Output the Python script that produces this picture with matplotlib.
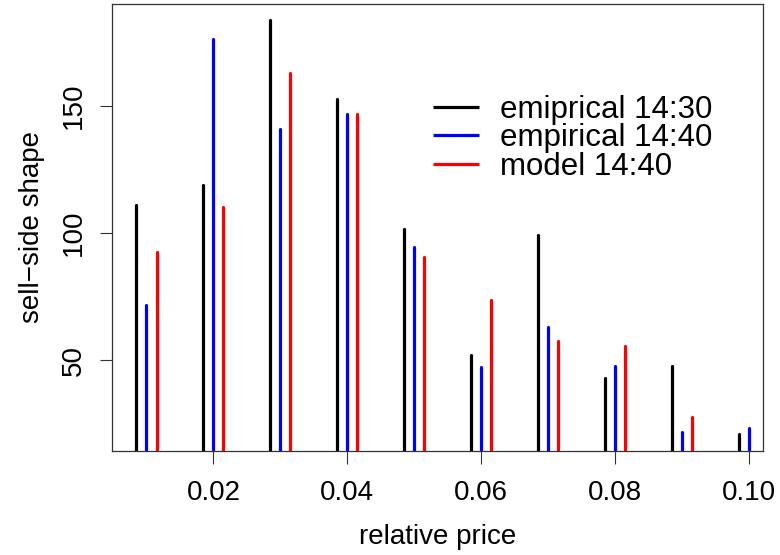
import numpy as np
import matplotlib.pyplot as plt

plt.rcParams['font.family'] = ['Liberation Sans', 'DejaVu Sans']

# ---- data ----
price = np.array([0.01, 0.02, 0.03, 0.04, 0.05, 0.06, 0.07, 0.08, 0.09, 0.10])
emp_1430 = [111.1, 119.0, 183.4, 152.7, 101.6, 52.0, 99.1, 43.2, 48.0, 21.1]
emp_1440 = [71.7, 176.1, 140.8, 146.5, 94.6, 47.4, 63.0, 48.0, 21.9, 23.6]
model_1440 = [92.4, 110.3, 162.8, 146.5, 90.7, 73.8, 57.7, 55.6, 27.8, np.nan]
shift = 0.0015

fig = plt.figure(figsize=(7.8, 5.55), dpi=100)
ax = fig.add_axes([0.144, 0.188, 0.8346, 0.805])

lw = 2.3
ax.vlines(price - shift, 0, emp_1430, color='black', lw=lw, capstyle='round', label='emiprical 14:30')
ax.vlines(price, 0, emp_1440, color='blue', lw=lw, capstyle='round', label='empirical 14:40')
ax.vlines(price + shift, 0, model_1440, color='red', lw=lw, capstyle='round', label='model 14:40')

ax.set_xlim(0.0049, 0.1021)
ax.set_ylim(14.6, 189.9)
ax.set_xticks([0.02, 0.04, 0.06, 0.08, 0.10])
ax.set_xticklabels(['0.02', '0.04', '0.06', '0.08', '0.10'])
ax.set_yticks([50, 100, 150])
ax.set_yticklabels(['50', '100', '150'], rotation=90, va='center')

fs = 20
ax.tick_params(labelsize=fs, length=9, width=0.8, color='#333333')
ax.tick_params(axis='x', pad=12)
ax.tick_params(axis='y', pad=9)
for s in ax.spines.values():
    s.set_linewidth(0.9)
    s.set_color('#333333')

ax.set_xlabel('relative price', fontsize=fs, labelpad=13)
ax.set_ylabel('sell\u2212side shape', fontsize=fs, labelpad=12)

ax.legend(loc='upper left', bbox_to_anchor=(0.468, 0.832), frameon=False,
          fontsize=22.5, handlelength=1.5, handletextpad=0.65,
          labelspacing=-0.04, borderpad=0)

fig.savefig('out.png', dpi=100)
